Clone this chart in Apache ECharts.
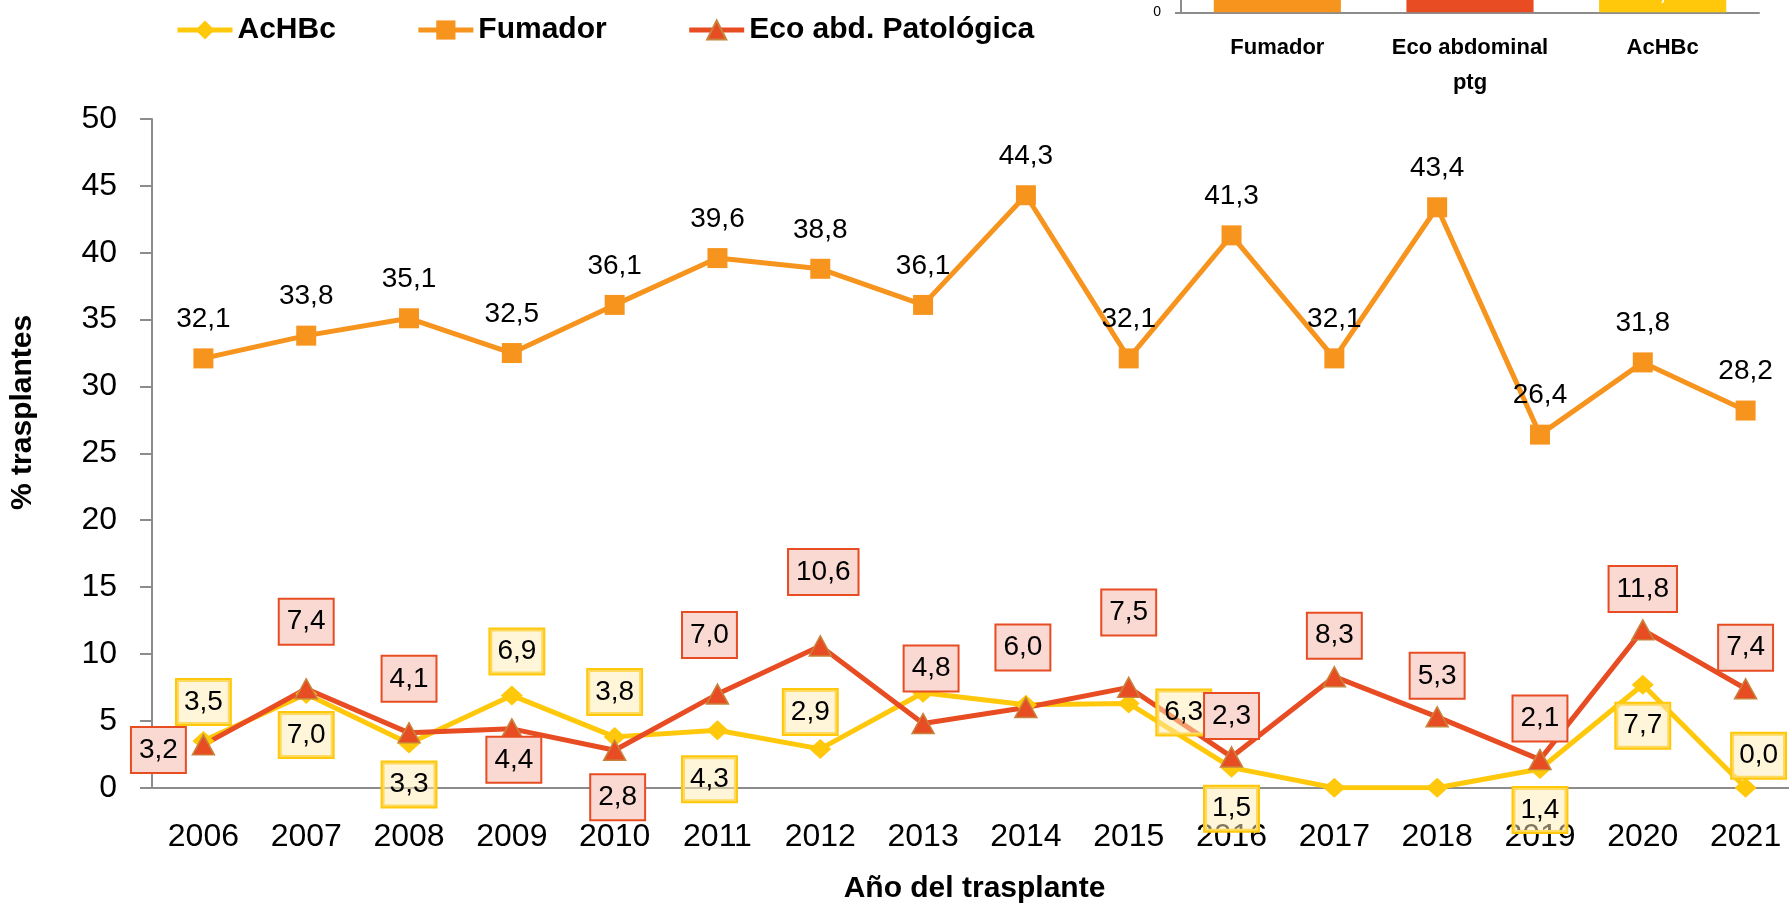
<!DOCTYPE html>
<html>
<head>
<meta charset="utf-8">
<script src="https://cdn.jsdelivr.net/npm/echarts@6/dist/echarts.min.js"></script>
<style>
  html, body { margin: 0; padding: 0; background: #fff; }
  #main { width: 1789px; height: 909px; }
</style>
</head>
<body>
<div id="main"></div>
<script>
// datos por año
const years = ["2006", "2007", "2008", "2009", "2010", "2011", "2012", "2013",
  "2014", "2015", "2016", "2017", "2018", "2019", "2020", "2021"];
const acHBc = [3.5, 7.0, 3.3, 6.9, 3.8, 4.3, 2.9, 7.1, 6.2, 6.3, 1.5, 0.0, 0.0, 1.4, 7.7, 0.0];
const fumador = [32.1, 33.8, 35.1, 32.5, 36.1, 39.6, 38.8, 36.1, 44.3, 32.1, 41.3, 32.1, 43.4, 26.4, 31.8, 28.2];
const ecoAbd = [3.2, 7.4, 4.1, 4.4, 2.8, 7.0, 10.6, 4.8, 6.0, 7.5, 2.3, 8.3, 5.3, 2.1, 11.8, 7.4];

// gráfico pequeño (arriba a la derecha)
const insetCats = ["Fumador", "Eco abdominal\nptg", "AcHBc"];
const insetValues = [35.0, 6.3, 5.8];

// desplazamiento de las etiquetas respecto al punto (null = etiqueta oculta)
const acLabelOffsets = [[0, -39], [0, 41], [0, 41], [5, -44], [0, -45], [-8, 49], [-10, -37], null,
  null, [55, 9], [0, 41], null, null, [0, 41], [0, 41], [13, -32]];
const ecoLabelOffsets = [[-45, 5], [0, -67], [0, -54], [2, 31], [3, 47], [-8, -59], [3, -74], [8, -55],
  [-3, -60], [0, -75], [0, -41], [0, -41], [0, -41], [0, -41], [0, -41], [0, -41]];

const FONT = "Liberation Sans, Arial, sans-serif";
const YELLOW = "#FFC80B";
const ORANGE = "#F7941E";
const RED = "#E84C23";
const AXIS = "#8C8C8C";

const fmt = (v) => v.toFixed(1).replace(".", ",");

function withLabels(values, offsets) {
  return values.map((v, i) => {
    const off = offsets[i];
    if (!off) return { value: v, label: { show: false } };
    return { value: v, label: { offset: off } };
  });
}

const boxLabel = (bg, border) => ({
  show: true,
  position: "inside",
  formatter: (p) => fmt(p.value),
  fontFamily: FONT,
  fontSize: 28,
  lineHeight: 28,
  color: "#000",
  backgroundColor: bg,
  borderColor: border,
  borderWidth: 2,
  padding: [8, 7],
});

const chart = echarts.init(document.getElementById("main"));

const option = {
  animation: false,
  textStyle: { fontFamily: FONT },
  legend: {
    left: 170,
    top: 10,
    itemWidth: 55,
    itemHeight: 24,
    itemGap: 80,
    data: ["AcHBc", "Fumador", "Eco abd. Patológica"],
    lineStyle: { width: 5 },
    textStyle: { fontFamily: FONT, fontSize: 30, fontWeight: "bold", color: "#000" },
  },
  grid: [
    { left: 152, right: -8, top: 119, bottom: 121.3, outerBoundsMode: "none" },
    { left: 1181, right: 30, top: -218, bottom: 896.7, outerBoundsMode: "none" },
  ],
  xAxis: [
    {
      type: "category",
      gridIndex: 0,
      data: years,
      name: "Año del trasplante",
      nameLocation: "middle",
      nameGap: 86,
      nameTextStyle: { fontFamily: FONT, fontSize: 30, fontWeight: "bold", color: "#000" },
      axisLine: { lineStyle: { color: AXIS, width: 2 } },
      axisTick: { length: 12, lineStyle: { color: AXIS, width: 2 } },
      axisLabel: { interval: 0, margin: 33, fontFamily: FONT, fontSize: 32, color: "#000" },
    },
    {
      type: "category",
      gridIndex: 1,
      data: insetCats,
      axisLine: { lineStyle: { color: AXIS, width: 2 } },
      axisTick: { length: 7, lineStyle: { color: AXIS, width: 2 } },
      axisLabel: { interval: 0, margin: 18, fontFamily: FONT, fontSize: 22, lineHeight: 35,
        fontWeight: "bold", color: "#000" },
    },
  ],
  yAxis: [
    {
      type: "value",
      gridIndex: 0,
      min: 0,
      max: 50,
      interval: 5,
      name: "% trasplantes",
      nameLocation: "middle",
      nameGap: 114,
      nameTextStyle: { fontFamily: FONT, fontSize: 30, fontWeight: "bold", color: "#000",
        padding: [0, 0, 0, 82] },
      splitLine: { show: false },
      axisLine: { show: true, lineStyle: { color: AXIS, width: 2 } },
      axisTick: { show: true, length: 12, lineStyle: { color: AXIS, width: 2 } },
      axisLabel: { margin: 35, fontFamily: FONT, fontSize: 32, color: "#000" },
    },
    {
      type: "value",
      gridIndex: 1,
      min: 0,
      max: 40,
      interval: 10,
      splitLine: { show: false },
      axisLine: { show: true, lineStyle: { color: AXIS, width: 2 } },
      axisTick: { show: true, length: 6, lineStyle: { color: AXIS, width: 2 } },
      axisLabel: { margin: 20, fontFamily: FONT, fontSize: 14, color: "#000" },
    },
  ],
  series: [
    {
      name: "AcHBc",
      type: "line",
      xAxisIndex: 0,
      yAxisIndex: 0,
      data: withLabels(acHBc, acLabelOffsets),
      symbol: "diamond",
      symbolSize: [22, 20],
      lineStyle: { color: YELLOW, width: 5 },
      itemStyle: { color: YELLOW },
      label: boxLabel("rgba(255,236,180,0.5)", YELLOW),
    },
    {
      name: "Fumador",
      type: "line",
      xAxisIndex: 0,
      yAxisIndex: 0,
      data: fumador,
      symbol: "rect",
      symbolSize: 20,
      lineStyle: { color: ORANGE, width: 5 },
      itemStyle: { color: ORANGE },
      label: {
        show: true,
        position: "inside",
        offset: [0, -39],
        formatter: (p) => fmt(p.value),
        fontFamily: FONT,
        fontSize: 28,
        color: "#000",
      },
    },
    {
      name: "Eco abd. Patológica",
      type: "line",
      xAxisIndex: 0,
      yAxisIndex: 0,
      data: withLabels(ecoAbd, ecoLabelOffsets),
      symbol: "triangle",
      symbolSize: [22, 20],
      lineStyle: { color: RED, width: 5 },
      itemStyle: { color: RED, borderColor: "#C8843C", borderWidth: 1.5 },
      label: boxLabel("#F9D9D2", RED),
    },
    {
      name: "inset",
      type: "bar",
      xAxisIndex: 1,
      yAxisIndex: 1,
      barWidth: "66%",
      data: insetValues.map((v, i) => ({
        value: v,
        itemStyle: { color: [ORANGE, RED, YELLOW][i] },
      })),
      label: {
        show: true,
        position: "insideTop",
        distance: 5,
        formatter: (p) => fmt(p.value),
        fontFamily: FONT,
        fontSize: 21,
        fontWeight: "bold",
        color: "#fff",
      },
    },
  ],
};

chart.setOption(option);
</script>
</body>
</html>
